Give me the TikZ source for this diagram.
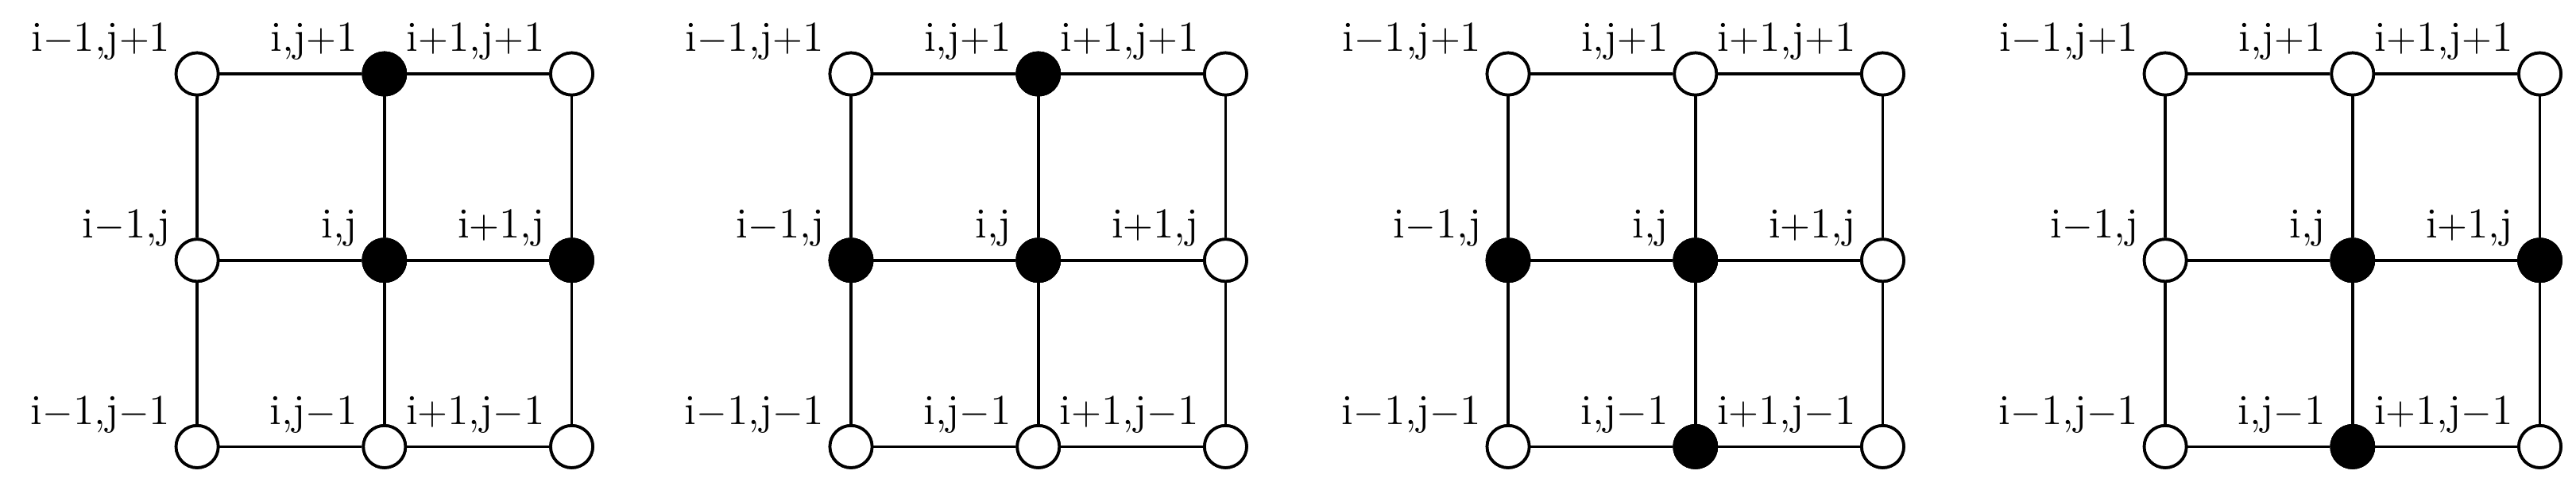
\documentclass[tikz,border=0pt]{standalone}
\begin{document}
\begin{tikzpicture}[x=0.01754cm,y=-0.01754cm,
  pt/.style={circle,draw,line width=0.9pt,minimum size=0.45cm,inner sep=0pt,fill=white},
  bk/.style={pt,fill=black},
  lab/.style={anchor=base east,inner sep=0pt,font=\fontsize{13}{15}\selectfont}]
\useasboundingbox (0,0) rectangle (1568,298);
\foreach \p/\ox/\ba/\bb/\bc in {1/0/12/11/21, 2/398/12/01/11, 3/798/01/11/10, 4/1198/11/21/10}{
  \foreach \c in {0,1,2}{
    \foreach \r in {0,1,2}{
      \node[pt] (n\p-\c-\r) at ({120+\ox+114*\c},{45+113.5*\r}) {};
    }
  }
  \foreach \c in {0,1,2}{
    \draw[line width=0.9pt] (n\p-\c-0) -- (n\p-\c-1) -- (n\p-\c-2);
    \draw[line width=0.9pt] (n\p-0-\c) -- (n\p-1-\c) -- (n\p-2-\c);
  }
  \foreach \c in {0,1,2}{ \foreach \r in {0,1,2}{ \node[pt] at (n\p-\c-\r) {}; } }
  \foreach \k in {\ba,\bb,\bc}{
    \pgfmathtruncatemacro{\kc}{int(\k/10)}
    \pgfmathtruncatemacro{\kr}{2-mod(\k,10)}
    \node[bk] at (n\p-\kc-\kr) {};
  }
  \node[lab] (a\p1) at ([xshift=-0.28cm,yshift=0.24cm]n\p-0-0.center) {i$\mathord{-}$1,j$\mathord{+}$1};
  \node[lab] (a\p2) at ([xshift=-0.28cm,yshift=0.24cm]n\p-1-0.center) {i,j$\mathord{+}$1};
  \node[lab] (a\p3) at ([xshift=-0.28cm,yshift=0.24cm]n\p-2-0.center) {i$\mathord{+}$1,j$\mathord{+}$1};
  \node[lab] (a\p4) at ([xshift=-0.28cm,yshift=0.24cm]n\p-0-1.center) {i$\mathord{-}$1,j};
  \node[lab] (a\p5) at ([xshift=-0.28cm,yshift=0.24cm]n\p-1-1.center) {i,j};
  \node[lab] (a\p6) at ([xshift=-0.28cm,yshift=0.24cm]n\p-2-1.center) {i$\mathord{+}$1,j};
  \node[lab] (a\p7) at ([xshift=-0.28cm,yshift=0.24cm]n\p-0-2.center) {i$\mathord{-}$1,j$\mathord{-}$1};
  \node[lab] (a\p8) at ([xshift=-0.28cm,yshift=0.24cm]n\p-1-2.center) {i,j$\mathord{-}$1};
  \node[lab] (a\p9) at ([xshift=-0.28cm,yshift=0.24cm]n\p-2-2.center) {i$\mathord{+}$1,j$\mathord{-}$1};
}
\end{tikzpicture}
\end{document}
